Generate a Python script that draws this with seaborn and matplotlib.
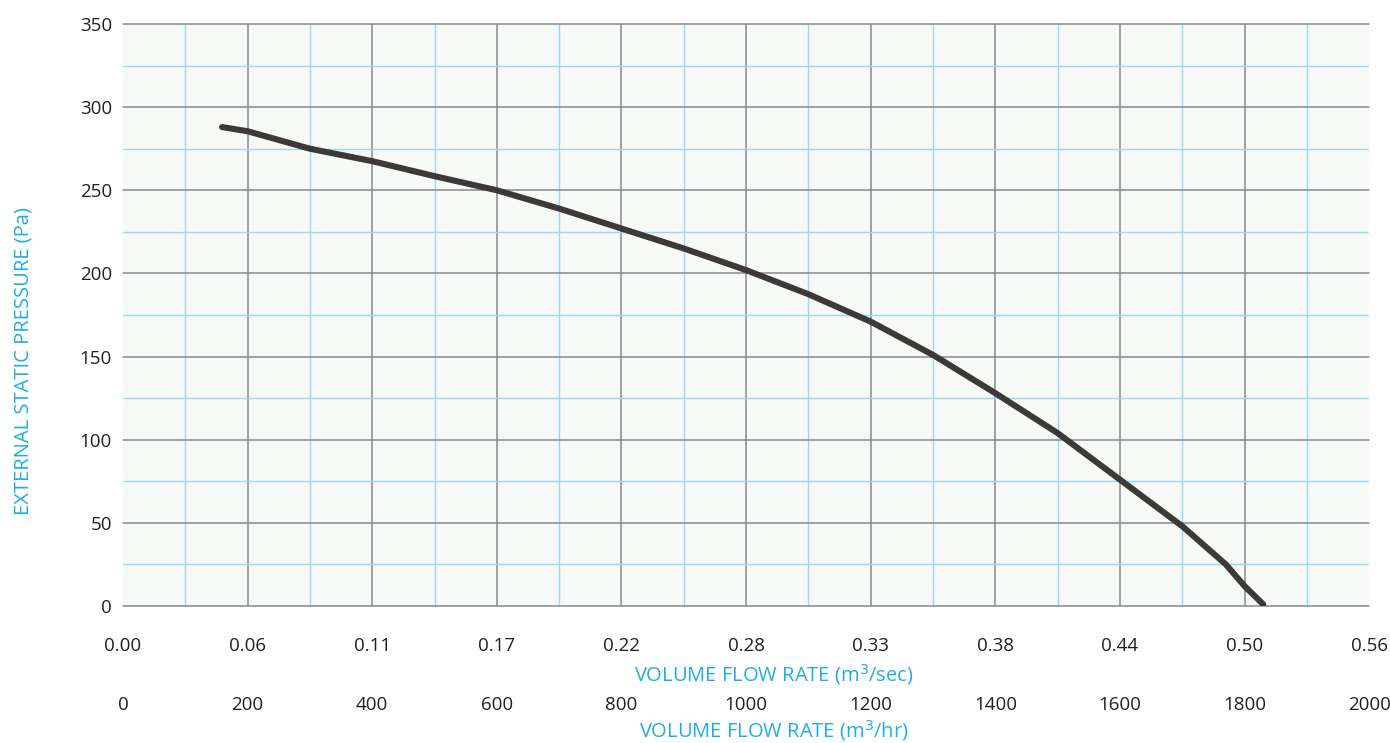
import numpy as np
import pandas as pd
import matplotlib
matplotlib.use("Agg")
import matplotlib.pyplot as plt
import seaborn as sns
from matplotlib.ticker import MultipleLocator

# fan curve
flow_hr = [159, 200, 300, 400, 500, 600, 700, 800, 900, 1000, 1100, 1200,
           1300, 1400, 1500, 1600, 1700, 1770, 1800, 1830]
pressure = [288, 285.5, 275, 267.5, 258.5, 250, 239, 227, 215, 202, 187.5, 171,
            151, 128, 104, 76, 48, 25, 12, 1]

hr_ticks = [0, 200, 400, 600, 800, 1000, 1200, 1400, 1600, 1800, 2000]
sec_labels = ["0.00", "0.06", "0.11", "0.17", "0.22", "0.28", "0.33",
              "0.38", "0.44", "0.50", "0.56"]
pa_ticks = [0, 50, 100, 150, 200, 250, 300, 350]

cyan = "#1eaee4"
txt = "#231f20"
gray = "#88898d"

sns.set_theme(style="white")
plt.rcParams['font.family'] = ['Open Sans', 'DejaVu Sans']

fig = plt.figure(figsize=(13.9, 7.43), dpi=100)
ax = fig.add_axes([0.0885, 0.1844, 0.8965, 0.7833])
ax.set_facecolor("#f6f9f6")

df = pd.DataFrame({"flow": flow_hr, "pa": pressure})
sns.lineplot(data=df, x="flow", y="pa", ax=ax, color="#3c3938", lw=4.4,
             solid_capstyle="round", zorder=5)

ax.set_xlim(0, 2000)
ax.set_ylim(0, 350)
ax.xaxis.set_minor_locator(MultipleLocator(100))
ax.yaxis.set_minor_locator(MultipleLocator(25))
ax.set_yticks(pa_ticks)
ax.set_xticks(hr_ticks)
ax.set_xticklabels(sec_labels)
ax.grid(which="minor", color="#9dd7f2", lw=1.0, zorder=1)
ax.grid(which="major", color=gray, lw=1.1, zorder=2)
ax.set_axisbelow(True)
# no grid lines on the left/right edges, full lines top/bottom
xg = ax.get_xgridlines()
xg[0].set_visible(False)
xg[-1].set_visible(False)
for gl in ax.get_ygridlines():
    gl.set_clip_on(False)
for s in ax.spines.values():
    s.set_visible(False)
ax.tick_params(which="both", length=0)
ax.tick_params(axis="y", which="major", length=7, width=1.1, color=gray,
               labelsize=13.5, labelcolor=txt, pad=1)
ax.tick_params(axis="x", labelsize=13.5, labelcolor=txt, pad=22)

ax.set_ylabel("EXTERNAL STATIC PRESSURE (Pa)", color=cyan, fontsize=14.5)
ax.yaxis.set_label_coords(-0.072, 0.421)
ax.set_xlabel("VOLUME FLOW RATE (m$^3$/sec)", color=cyan, fontsize=14.5)
ax.xaxis.set_label_coords(0.522, -0.097)

# second x scale in m3/hr
sec = ax.secondary_xaxis(-0.155)
sec.set_xticks(hr_ticks)
sec.set_xticklabels([str(v) for v in hr_ticks])
sec.tick_params(length=0, labelsize=13.5, labelcolor=txt, pad=0)
sec.spines["bottom"].set_visible(False)
ax.text(0.522, -0.193, "VOLUME FLOW RATE (m$^3$/hr)", color=cyan, fontsize=14.5,
        ha="center", va="top", transform=ax.transAxes)

fig.savefig("out.png", dpi=100)
